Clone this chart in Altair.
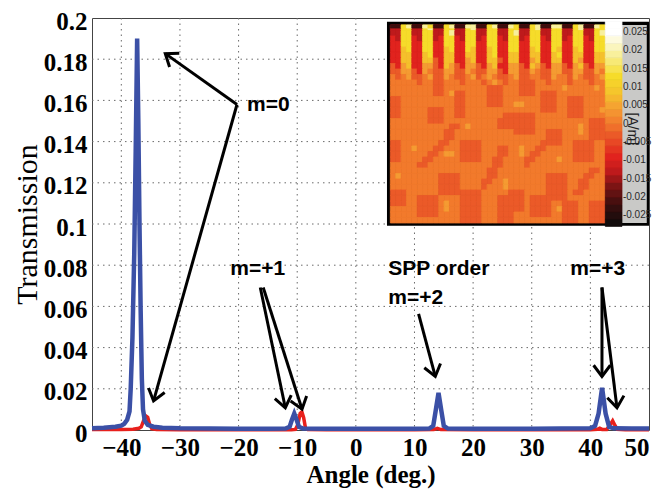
import math
import altair as alt
import pandas as pd

# ---------------- main transmission curves ----------------
blue_angle = [-45, -43, -41, -40, -39.5, -39.0, -38.6, -38.4, -38.1, -37.8, -37.55, -37.3,
              -37.1, -36.9, -36.7, -36.5, -36.3, -36.0, -35.5, -34.5, -33, -30, -25, -20,
              -15, -12, -11.3, -10.9, -10.5, -10.1, -9.7, -9.0, -5, 0, 5, 10, 12.5, 13.2,
              13.6, 14.1, 14.6, 15.0, 15.7, 20, 25, 30, 35, 40, 40.8, 41.4, 42.0, 42.6,
              43.2, 44, 47, 50]
blue_trans = [0.0009, 0.0011, 0.0016, 0.0021, 0.0030, 0.0050, 0.0090, 0.020, 0.045, 0.085,
              0.135, 0.190, 0.150, 0.100, 0.058, 0.025, 0.010, 0.0045, 0.0025, 0.0016,
              0.0011, 0.0008, 0.0007, 0.0006, 0.0006, 0.0007, 0.0015, 0.0050, 0.0080,
              0.0050, 0.0015, 0.0007, 0.0006, 0.0006, 0.0006, 0.0006, 0.0007, 0.0020,
              0.0090, 0.0180, 0.0090, 0.0020, 0.0007, 0.0006, 0.0006, 0.0006, 0.0007,
              0.0008, 0.0020, 0.0080, 0.0205, 0.0080, 0.0015, 0.0008, 0.0007, 0.0007]

red_angle = [-45, -40, -38, -37, -36.6, -36.2, -35.9, -35.5, -35.2, -34.8, -34, -30, -20,
             -11, -10.3, -9.9, -9.5, -9.2, -8.9, -8.6, -8.2, -5, 0, 10, 13.3, 13.9, 14.5,
             20, 30, 40, 41.2, 41.6, 42.0, 42.8, 43.3, 43.8, 44.2, 44.6, 46, 50]
red_trans = [0.0002, 0.0002, 0.0004, 0.0008, 0.0015, 0.0045, 0.0070, 0.0062, 0.0030,
             0.0006, 0.0002, 0.0001, 0.0001, 0.0001, 0.0003, 0.0025, 0.0080, 0.0088,
             0.0060, 0.0012, 0.0002, 0.0001, 0.0001, 0.0001, 0.0002, 0.0008, 0.0002,
             0.0001, 0.0001, 0.0001, 0.0003, 0.0009, 0.0003, 0.0003, 0.0022, 0.0045,
             0.0022, 0.0003, 0.0001, 0.0001]

x_ticks = [-40, -30, -20, -10, 0, 10, 20, 30, 40, 50]
y_ticks = [0, 0.02, 0.04, 0.06, 0.08, 0.1, 0.12, 0.14, 0.16, 0.18, 0.2]

# ---------------- annotations ----------------
label_text = ["m=0", "m=+1", "SPP order", "m=+2", "m=+3"]
label_x = [-18.56, -21.4, 5.53, 5.53, 36.58]
label_y = [0.158, 0.0783, 0.0783, 0.064, 0.0783]

arrow_x0 = [-20.27, -20.27, -16.3, -15.8, 10.7, 41.98, 41.98]
arrow_y0 = [0.158, 0.158, 0.0692, 0.0692, 0.0564, 0.0692, 0.0692]
arrow_x1 = [-32.5, -34.5, -12.03, -9.18, 13.55, 41.98, 44.54]
arrow_y1 = [0.1827, 0.0141, 0.0108, 0.0101, 0.026, 0.026, 0.0108]

# ---------------- inset field map (H field, A/m) ----------------
level_of = {"K": -0.022, "D": -0.013, "R": -0.009, "r": -0.003, "o": 0.0,
            "l": 0.004, "y": 0.008, "Y": 0.013, "W": 0.019}
inset_top_strip = "KKYW KKWY KKYW KKWW KKYW KKWY KKYW KKWW KKYW KKWY"
inset_rows = [
    "DDYY DDYW DDYY DDYW DDYY DDYY DDYW DDYY DDYW DDYY",
    "DDYY DDYY DDYW DDYY DDYY DDYW DDYY DDYY DDYY DDYW",
    "RDYY RDYY DRYY RDYY DRYY RDYY DRYY RDYY DRYY RDYY",
    "RRYY RRYY RRYY RRYY RRYY RRYY RRYY RRYY RRYY RRYY",
    "RRyY RRYY RRyY RRYy RRyY RRYY RRyY RRYy RRyY RRYY",
    "RRyy RRyY RRyy RRyy RRyY RRyy RRyy RRyY RRyy RRyy",
    "RRyy RRyy rRyy RRly RRyy rRyy RRly RRyy RRyl RRyy",
    "rRly RRll rRyl rRll rRly RRll rRyl rRll rRly rRll",
    "rrll rRlo rrll rrlo rrll rRll rrlo rrll rrll rrlo",
    "orolrrolrr lorrolrolo rrolrroorr loorlorrol",
    "oooooroorr ooorooorol oroorrroor oooroooroo",
    "oooooooorr oooooooorr rooorrrooo oolooooolo",
    "oooooooorr olrroooorr rooorrrorr rooooooooo",
    "rroooooooo oorroooorr rooooooorr roorrroooo",
    "rroooooooo oorroooorr roollooorr roorrroooo",
    "rrooooorrr oorroooooo oooooooorr roorrroool",
    "rrooooorrr oorroooooo orrrrrrooo ooorrroooo",
    "ooooooorrr oooooooooo rrrrrrrooo ooooooorrr",
    "oooooooooo orrolooooo rrrrrrrooo ooooolorrr",
    "oooooooooo rroooooooo ooorrrroor rrooolorrr",
    "oooooooooo rroooooooo ooooooooor rrooooorrr",
    "rrooooooor roorrrrooo oooooooorr rroorrrroo",
    "rroolooorr ooorrrrooo rrooloorro oooorrrroo",
    "rrooooorro llorrrrooo rroolorroo oooorrrroo",
    "rroooorroo ooorrrroor roooorrooo oloorrrroo",
    "ooooorrooo ooooooooor rooooroooo oooooooooo",
    "oooooooooo oooooooorr oooooooooo ooooooorro",
    "olooooooor rrrooooorr ooooooooor rrrooorroo",
    "ooooooooor rrroooorro olooooooor rrroorrooo",
    "ooooooooor rrrooooroo olooooooor rrroorrooo",
    "rrroooooor rrrrrrrooo oorrroooor rrrorroooo",
    "rrroorrrro ooorrrrooo rrrrrorrrr rrrooooooo",
    "rrroorrrro loorrrrooo rrrrrorrrr oorrroorrr",
    "ooooorrrro loorrrrooo rrrrrorrrr olrrroorrr",
    "ooooorrrro ooorrrrooo rrrooorrrr oorrroorrr",
    "oooooooooo ooorrrrooo rrrooooooo oorrroorrr",
]
colorbar_levels = [-0.027, -0.025, -0.023, -0.021, -0.019, -0.017, -0.015, -0.013, -0.011,
                   -0.009, -0.007, -0.005, -0.003, -0.001, 0.001, 0.003, 0.005, 0.007,
                   0.009, 0.011, 0.013, 0.015, 0.017, 0.019, 0.021, 0.023, 0.025, 0.027]
colorbar_ticks = [0.025, 0.02, 0.015, 0.01, 0.005, 0, -0.005, -0.01, -0.015, -0.02, -0.025]
colorbar_tick_text = ["0.025", "0.02", "0.015", "0.01", "0.005", "0", "-0.005", "-0.01",
                      "-0.015", "-0.02", "-0.025"]
cmap_stops = [-0.027, -0.022, -0.017, -0.013, -0.009, -0.003, 0.0, 0.004, 0.008, 0.013,
              0.019, 0.025]
cmap_colors = ["#120c0c", "#3c0e0e", "#7c1414", "#be1a1c", "#e1231e", "#eb5a28", "#f27a2c",
               "#f59b32", "#f5c02c", "#f6dc2a", "#f8f09c", "#ffffff"]

# ---------------- layout ----------------
W, H = 557, 412
X0, X1, Y0, Y1 = -45, 50, 0, 0.2
KX, KY = W / (X1 - X0), H / (Y1 - Y0)
IN_X0, IN_X1 = 5.88, 42.55
IN_YT, IN_YB = 0.1966, 0.1005
CB_X1 = 45.39
GREY_X1 = 49.62
FR_X0, FR_X1, FR_YB, FR_YT = 5.31, 50.0, 0.0992, 0.1982
CB_MID, CB_SLOPE = 0.14865, 1.7788

xs = alt.Scale(domain=[X0, X1], nice=False, zero=False)
ys = alt.Scale(domain=[Y0, Y1], nice=False, zero=False)
cscale = alt.Scale(domain=cmap_stops, range=cmap_colors, interpolate="rgb")
xaxis = alt.Axis(values=x_ticks, grid=False, titleFontWeight="bold", titleFontSize=25,
                 labelPadding=5, titlePadding=2)
yaxis = alt.Axis(values=y_ticks, grid=False, format="~g", titleFontWeight="normal",
                 titleFontSize=30, labelPadding=5, titlePadding=1, labelOffset=3)


def X(f):
    return alt.X(f, scale=xs, axis=xaxis, title="Angle (deg.)")


def Y(f):
    return alt.Y(f, scale=ys, axis=yaxis, title="Transmission")


# dotted grid drawn from the tick values
vgrid = alt.Chart(pd.DataFrame({"g": x_ticks[:-1]})).mark_rule(
    color="#6a6a6a", strokeWidth=1, strokeDash=[1.5, 4]).encode(x=X("g:Q"))
hgrid = alt.Chart(pd.DataFrame({"g": y_ticks[1:-1]})).mark_rule(
    color="#6a6a6a", strokeWidth=1, strokeDash=[1.5, 4]).encode(y=Y("g:Q"))

curves_red = pd.DataFrame({"x": red_angle, "y": red_trans})
curves_blue = pd.DataFrame({"x": blue_angle, "y": blue_trans})
red_line = alt.Chart(curves_red).mark_line(color="#e8201c", strokeWidth=3.5).encode(
    x=X("x:Q"), y=Y("y:Q"))
blue_line = alt.Chart(curves_blue).mark_line(color="#3b50a6", strokeWidth=4.5).encode(
    x=X("x:Q"), y=Y("y:Q"))

cells = []
cw = (IN_X1 - IN_X0) / 40
rh = (IN_YT - IN_YB) / len(inset_rows)
for r, row in enumerate(inset_rows):
    row = row.replace(" ", "")
    for c, ch in enumerate(row[:40]):
        cells.append({"x": IN_X0 + c * cw, "x2": IN_X0 + (c + 1) * cw,
                      "y": IN_YT - (r + 1) * rh, "y2": IN_YT - r * rh,
                      "v": level_of[ch]})
strip_h = 3 / KY
for c, ch in enumerate(inset_top_strip.replace(" ", "")[:40]):
    cells.append({"x": IN_X0 + c * cw, "x2": IN_X0 + (c + 1) * cw,
                  "y": IN_YT - strip_h, "y2": IN_YT, "v": level_of[ch]})
for v in colorbar_levels:
    cells.append({"x": IN_X1, "x2": CB_X1,
                  "y": CB_MID + (v - 0.001) * CB_SLOPE,
                  "y2": CB_MID + (v + 0.001) * CB_SLOPE, "v": v})
cells_df = pd.DataFrame(cells)

frame = alt.Chart(pd.DataFrame({"x": [FR_X0], "x2": [FR_X1], "y": [FR_YB], "y2": [FR_YT]})
                  ).mark_rect(color="black").encode(
    x=X("x:Q"), x2="x2:Q", y=Y("y:Q"), y2="y2:Q")
grey = alt.Chart(pd.DataFrame({"x": [CB_X1], "x2": [GREY_X1], "y": [IN_YB], "y2": [IN_YT]})
                 ).mark_rect(color="#c9c9c7").encode(
    x=X("x:Q"), x2="x2:Q", y=Y("y:Q"), y2="y2:Q")
heat = alt.Chart(cells_df).mark_rect(strokeWidth=0.8).encode(
    x=X("x:Q"), x2="x2:Q", y=Y("y:Q"), y2="y2:Q",
    color=alt.Color("v:Q", scale=cscale, legend=None),
    stroke=alt.Stroke("v:Q", scale=cscale, legend=None))

cb_lab = alt.Chart(pd.DataFrame({
    "x": [45.55] * len(colorbar_ticks),
    "y": [CB_MID + t * CB_SLOPE for t in colorbar_ticks],
    "t": colorbar_tick_text})).mark_text(
    align="left", baseline="middle", font="Liberation Sans", fontSize=10,
    color="#2a2a2a").encode(x=X("x:Q"), y=Y("y:Q"), text="t:N")
cb_unit = alt.Chart(pd.DataFrame({"x": [47.15], "y": [0.1462], "t": ["[A/m]"]})).mark_text(
    align="center", baseline="middle", angle=90, font="Liberation Sans", fontSize=14,
    color="#222").encode(x=X("x:Q"), y=Y("y:Q"), text="t:N")

ang = []
for a, b, c, d in zip(arrow_x0, arrow_y0, arrow_x1, arrow_y1):
    dx = (c - a) * KX
    dy_screen = -(d - b) * KY
    ang.append(math.degrees(math.atan2(dx, -dy_screen)) % 360)
arr_df = pd.DataFrame({"x": arrow_x0, "y": arrow_y0, "x2": arrow_x1, "y2": arrow_y1,
                       "ang": ang})
shafts = alt.Chart(arr_df).mark_rule(color="black", strokeWidth=3).encode(
    x=X("x:Q"), y=Y("y:Q"), x2="x2:Q", y2="y2:Q")
heads = alt.Chart(arr_df).mark_point(
    shape="M -0.75 1 L 0 0 L 0.75 1", filled=False, stroke="black", strokeWidth=3,
    size=500, opacity=1, strokeJoin="miter").encode(
    x=X("x2:Q"), y=Y("y2:Q"), angle=alt.Angle("ang:Q", scale=None))

labels = alt.Chart(pd.DataFrame({"x": label_x, "y": label_y, "t": label_text})).mark_text(
    align="left", baseline="middle", font="Liberation Sans", fontWeight="bold",
    fontSize=21, color="black").encode(x=X("x:Q"), y=Y("y:Q"), text="t:N")

chart = alt.layer(vgrid, hgrid, red_line, blue_line, frame, grey, heat, cb_lab, cb_unit,
                  shafts, heads, labels).properties(
    width=W, height=H,
    autosize=alt.AutoSizeParams(type="none"),
    padding={"left": 84, "top": 10, "right": 7, "bottom": 61},
).configure_view(stroke="#444", strokeWidth=1).configure_axis(
    domain=False, ticks=False,
    labelFont="Liberation Serif", labelFontWeight="bold", labelFontSize=25,
    labelColor="black", titleFont="Liberation Serif", titleColor="black")

chart.save("out.html", embed_options={"renderer": "svg", "actions": False})
